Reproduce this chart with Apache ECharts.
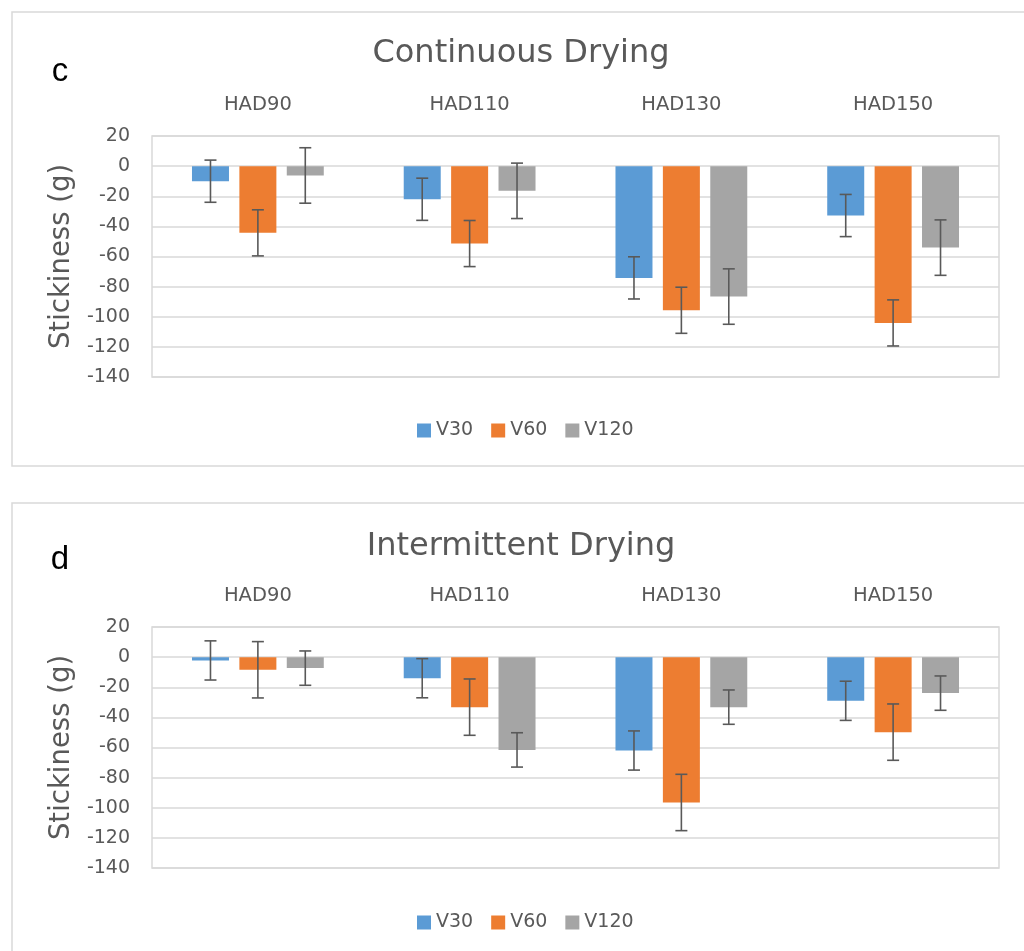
<!DOCTYPE html>
<html>
<head>
<meta charset="utf-8">
<script src="https://cdn.jsdelivr.net/npm/echarts@6/dist/echarts.min.js"></script>
<style>
  html, body { margin: 0; padding: 0; background: #fff; }
  #chart { width: 1024px; height: 951px; }
</style>
</head>
<body>
<div id="chart"></div>
<script>
'use strict';

const categories = ['HAD90', 'HAD110', 'HAD130', 'HAD150'];
const seriesNames = ['V30', 'V60', 'V120'];
const yTicks = [-140, -120, -100, -80, -60, -40, -20, 0, 20];

// c - continuous drying (means, error half-widths)
const contV30 = [-10, -22, -74.2, -32.8];
const contV60 = [-44.3, -51.4, -95.7, -104.1];
const contV120 = [-6.2, -16.4, -86.6, -54.1];
const contErrV30 = [14, 14, 14, 14];
const contErrV60 = [15.3, 15.3, 15.3, 15.3];
const contErrV120 = [18.4, 18.4, 18.4, 18.4];

// d - intermittent drying
const intV30 = [-2.2, -14, -62, -29];
const intV60 = [-8.4, -33.2, -96.5, -49.8];
const intV120 = [-7.3, -61.6, -33.2, -23.9];
const intErrV30 = [13, 13, 13, 13];
const intErrV60 = [18.7, 18.7, 18.7, 18.7];
const intErrV120 = [11.4, 11.4, 11.4, 11.4];

const colors = ['#5b9bd5', '#ed7d31', '#a5a5a5'];
const textColor = '#595959';
const fontFamily = 'DejaVu Sans';
const BAR_W = 37;
const BAR_GAP = 10.4;

function errorBarRenderer(slot) {
    return function (params, api) {
        const idx = api.value(0);
        const mean = api.value(1);
        const err = api.value(2);
        const hi = api.coord([idx, mean + err]);
        const lo = api.coord([idx, mean - err]);
        const x = hi[0] + (slot - 1) * (BAR_W + BAR_GAP);
        const style = { stroke: '#595959', lineWidth: 1.6 };
        return {
            type: 'group',
            children: [
                { type: 'line', shape: { x1: x, y1: hi[1], x2: x, y2: lo[1] }, style },
                { type: 'line', shape: { x1: x - 6, y1: hi[1], x2: x + 6, y2: hi[1] }, style },
                { type: 'line', shape: { x1: x - 6, y1: lo[1], x2: x + 6, y2: lo[1] }, style }
            ]
        };
    };
}

function panelSeries(gridIndex, means, errs) {
    const out = [];
    means.forEach((vals, i) => {
        out.push({
            name: seriesNames[i],
            type: 'bar',
            xAxisIndex: gridIndex,
            yAxisIndex: gridIndex,
            barWidth: BAR_W,
            barGap: (BAR_GAP / BAR_W * 100).toFixed(1) + '%',
            itemStyle: { color: colors[i] },
            data: vals
        });
    });
    means.forEach((vals, i) => {
        out.push({
            type: 'custom',
            xAxisIndex: gridIndex,
            yAxisIndex: gridIndex,
            z: 5,
            renderItem: errorBarRenderer(i),
            data: vals.map((v, k) => [k, v, errs[i][k]])
        });
    });
    return out;
}

function xAxisFor(gridIndex) {
    return {
        type: 'category',
        gridIndex,
        position: 'top',
        data: categories,
        axisLine: { show: false },
        axisTick: { show: false },
        axisLabel: { color: textColor, fontFamily, fontSize: 19.5, margin: 21 }
    };
}

function yAxisFor(gridIndex) {
    return {
        type: 'value',
        gridIndex,
        min: yTicks[0],
        max: yTicks[yTicks.length - 1],
        interval: 20,
        name: 'Stickiness (g)',
        nameLocation: 'middle',
        nameRotate: 90,
        nameGap: 73,
        nameTextStyle: { color: textColor, fontFamily, fontSize: 27.5 },
        axisLine: { show: false },
        axisTick: { show: false },
        axisLabel: { color: textColor, fontFamily, fontSize: 19, margin: 22 },
        splitLine: { lineStyle: { color: '#d9d9d9', width: 1.5 } }
    };
}

function legendAt(top) {
    return {
        data: seriesNames,
        left: 417,
        top,
        padding: 0,
        itemWidth: 14,
        itemHeight: 14,
        itemGap: 18,
        icon: 'rect',
        textStyle: { color: textColor, fontFamily, fontSize: 19 }
    };
}

const container = document.getElementById('chart');
const chart = echarts.init(container);

chart.setOption({
    animation: false,
    textStyle: { fontFamily },
    title: [
        {
            text: 'Continuous Drying',
            left: 516,
            textAlign: 'center',
            top: 33,
            textStyle: { color: textColor, fontFamily, fontSize: 32, fontWeight: 'normal' }
        },
        {
            text: 'Intermittent Drying',
            left: 516,
            textAlign: 'center',
            top: 526,
            textStyle: { color: textColor, fontFamily, fontSize: 32, fontWeight: 'normal' }
        }
    ],
    graphic: [
        { type: 'rect', shape: { x: 12, y: 12, width: 1030, height: 454 },
          style: { fill: 'none', stroke: '#d9d9d9', lineWidth: 1.5 }, z: -10 },
        { type: 'rect', shape: { x: 12, y: 503, width: 1030, height: 470 },
          style: { fill: 'none', stroke: '#d9d9d9', lineWidth: 1.5 }, z: -10 },
        { type: 'text', x: 60, y: 72,
          style: { text: 'c', fill: '#000', font: '33px "Liberation Sans"', textAlign: 'center', textVerticalAlign: 'middle' } },
        { type: 'text', x: 60, y: 560,
          style: { text: 'd', fill: '#000', font: '33px "Liberation Sans"', textAlign: 'center', textVerticalAlign: 'middle' } }
    ],
    legend: [legendAt(421), legendAt(913)],
    grid: [
        { left: 152, right: 25, top: 136, height: 241, show: true, borderColor: '#d9d9d9', borderWidth: 1.5 },
        { left: 152, right: 25, top: 627, height: 241, show: true, borderColor: '#d9d9d9', borderWidth: 1.5 }
    ],
    xAxis: [xAxisFor(0), xAxisFor(1)],
    yAxis: [yAxisFor(0), yAxisFor(1)],
    series: [
        ...panelSeries(0, [contV30, contV60, contV120], [contErrV30, contErrV60, contErrV120]),
        ...panelSeries(1, [intV30, intV60, intV120], [intErrV30, intErrV60, intErrV120])
    ]
});

window.addEventListener('resize', () => {
    chart.resize();
});
</script>
</body>
</html>
